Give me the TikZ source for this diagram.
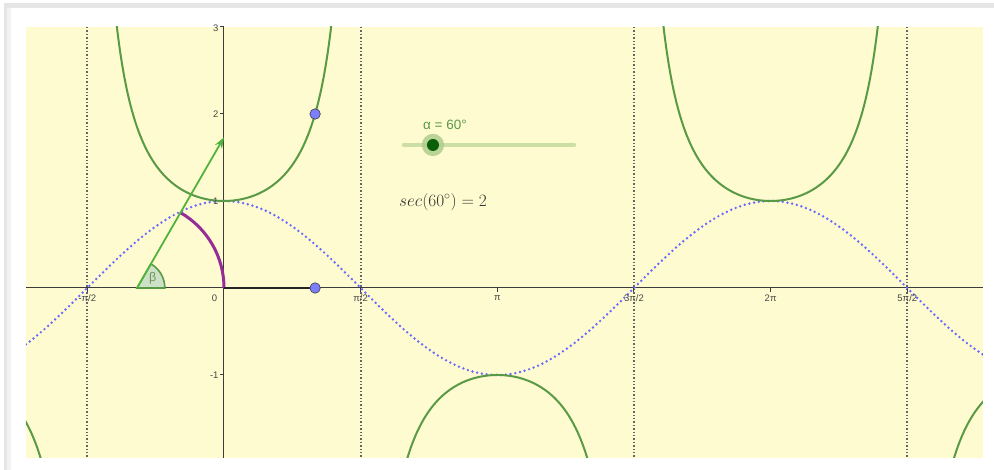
\documentclass[tikz,border=0pt]{standalone}
\usepackage{fontspec}
\setsansfont{Liberation Sans}
\usetikzlibrary{arrows.meta}
\definecolor{bgyellow}{RGB}{255,251,208}
\definecolor{secgreen}{RGB}{88,154,70}
\definecolor{cosblue}{RGB}{105,105,255}
\definecolor{asygray}{RGB}{100,100,100}
\definecolor{axisgray}{RGB}{60,60,60}
\definecolor{arcpurple}{RGB}{150,45,150}
\definecolor{arrowgreen}{RGB}{80,180,60}
\definecolor{ptblue}{RGB}{125,125,255}
\definecolor{sliderline}{RGB}{205,222,165}
\definecolor{knobdark}{RGB}{10,95,10}
\definecolor{knobhalo}{RGB}{175,205,140}
\definecolor{labgray}{RGB}{70,70,70}
\definecolor{betagreen}{RGB}{110,150,90}
\tikzset{
  seccurve/.style={secgreen, line width=2pt},
  coscurve/.style={cosblue, line width=2.7pt, line cap=round, dash pattern=on 0pt off 4.8pt},
  asym/.style={asygray, line width=1.8pt, dash pattern=on 1.4pt off 2.0pt},
  axisline/.style={axisgray, line width=1pt},
  ticklab/.style={font=\sffamily\fontsize{9.5}{10}\selectfont, text=labgray, inner sep=1pt},
  bluept/.style={circle, fill=ptblue, draw=axisgray, line width=0.6pt, minimum size=10.5pt, inner sep=0pt},
}
\begin{document}
\begin{tikzpicture}[x=87pt,y=87pt]
\useasboundingbox (-2.5747,-2.0920) rectangle (8.8506,3.3103);
% frame shadow
\fill[black!10] (-2.530,-2.0920) rectangle (8.8506,3.280);
\fill[white] (-2.450,-2.0920) rectangle (8.8506,3.218);
\fill[black!5] (-2.49,-2.0920) rectangle (-2.450,3.218);
% plot area
\fill[bgyellow] (-2.276,-1.950) rectangle (8.724,3.0);
\begin{scope}
\clip (-2.276,-1.950) rectangle (8.724,3.0);
% asymptotes
\foreach \k/\nm in {-1/am,1/a1,3/a3,5/a5}{
  \coordinate (\nm t) at ({\k*pi/2},3.0);
  \coordinate (\nm b) at ({\k*pi/2},-1.95);
  \draw[asym] (\nm t) -- (\nm b);
}
% axes
\coordinate (xl) at (-2.276,0);
\coordinate (xr) at (8.724,0);
\coordinate (yt) at (0,3.0);
\coordinate (yb) at (0,-1.95);
\draw[axisline] (xl) -- (xr);
\draw[axisline] (yb) -- (yt);
\foreach \y in {-2,-1,1,2,3}{\draw[axisline] (0,\y) -- (-0.045,\y);}
\foreach \k in {-1,1,2,3,4,5}{\draw[axisline] ({\k*pi/2},0) -- ({\k*pi/2},-0.045);}
% cosine
\draw[coscurve] plot[domain=-2.276:8.724, samples=200, smooth] (\x,{cos(\x r)});
% secant branches
\draw[seccurve] plot[domain=-1.25:1.25, samples=100, smooth] (\x,{1/cos(\x r)});
\draw[seccurve] plot[domain=2.09:4.19, samples=100, smooth] (\x,{1/cos(\x r)});
\draw[seccurve] plot[domain=5.033:7.533, samples=100, smooth] (\x,{1/cos(\x r)});
\draw[seccurve] plot[domain=-2.30:-2.08, samples=30, smooth] (\x,{1/cos(\x r)});
\draw[seccurve] plot[domain=8.37:8.75, samples=30, smooth] (\x,{1/cos(\x r)});
\end{scope}
% tick labels
\node[ticklab] (lxm) at ({-pi/2},-0.12) {-π/2};
\node[ticklab] (lx0) at (-0.11,-0.12) {0};
\node[ticklab] (lx1) at ({pi/2},-0.12) {π/2};
\node[ticklab] (lx2) at ({pi},-0.12) {π};
\node[ticklab] (lx3) at ({3*pi/2},-0.12) {3π/2};
\node[ticklab] (lx4) at ({2*pi},-0.12) {2π};
\node[ticklab] (lx5) at ({5*pi/2},-0.12) {5π/2};
\node[ticklab, anchor=east] (ly3) at (-0.05,2.99) {3};
\node[ticklab, anchor=east] (ly2) at (-0.05,2) {2};
\node[ticklab, anchor=east] (ly1) at (-0.05,1) {1};
\node[ticklab, anchor=east] (lym1) at (-0.05,-1) {-1};
% angle marker beta
\coordinate (C) at (-1,0);
\filldraw[fill=secgreen!30, draw=secgreen, line width=1.6pt] (C) -- ++(0.32,0) arc[start angle=0,end angle=60,radius=0.32] -- cycle;
\node[font=\sffamily\fontsize{12.5}{13}\selectfont, text=betagreen] (beta) at (-0.82,0.115) {β};
% purple arc
\coordinate (O) at (0,0);
\draw[arcpurple, line width=3pt] (O) arc[start angle=0,end angle=60,radius=1];
% arrow
\coordinate (tip) at (0,{sqrt(3)});
\draw[arrowgreen, line width=1.8pt, -{Stealth[length=11pt,width=8pt]}] (C) -- (tip);
% segment and points
\coordinate (Pa) at ({pi/3},0);
\draw[black!85, line width=2.2pt] (O) -- (Pa);
\node[bluept] (P0) at (Pa) {};
\node[bluept] (P2) at ({pi/3},2) {};
% slider
\coordinate (s1) at (2.069,1.644);
\coordinate (s2) at (4.023,1.644);
\draw[sliderline, line width=4.5pt, line cap=round] (s1) -- (s2);
\fill[knobhalo, opacity=0.85] (2.402,1.644) circle[radius=0.128];
\node[circle, fill=knobdark, minimum size=12pt, inner sep=0pt] (knob) at (2.402,1.644) {};
\node[font=\sffamily\fontsize{13.5}{14}\selectfont, text=secgreen] (alab) at (2.54,1.875) {α = 60°};
% formula
\node[font=\fontsize{18}{21}\selectfont, text=black!80] (sec) at (2.517,0.99) {$sec(60^{\circ}) = 2$};
\end{tikzpicture}
\end{document}
